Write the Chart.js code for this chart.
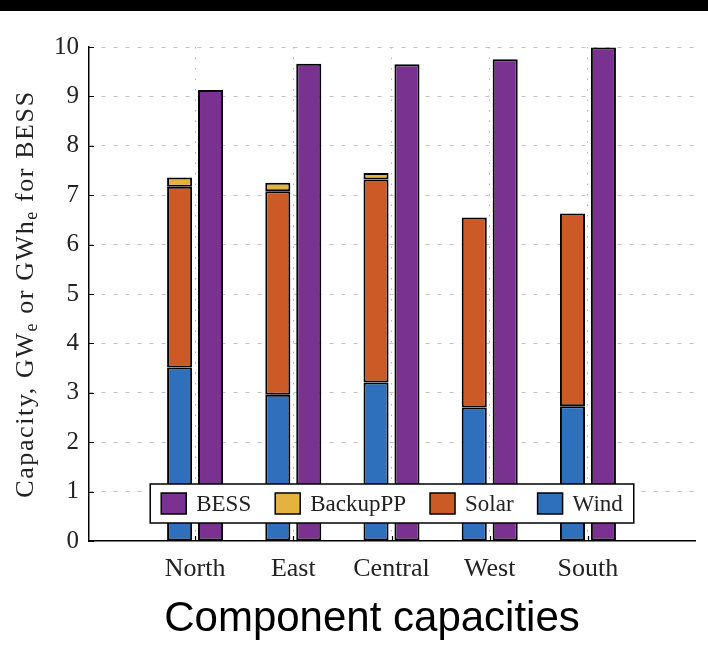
<!DOCTYPE html>
<html>
<head>
<meta charset="utf-8">
<script src="https://cdn.jsdelivr.net/npm/chart.js@4.4.1/dist/chart.umd.min.js"></script>
<style>
  html, body { margin: 0; padding: 0; background: #fff; }
  #wrap { width: 708px; height: 648px; }
</style>
</head>
<body>
<div id="wrap"><canvas id="c" width="708" height="648"></canvas></div>
<script>
// Installed capacity per region (GW_e; BESS in GWh_e)
const regions = ['North', 'East', 'Central', 'West', 'South'];
const wind    = [3.51, 2.96, 3.21, 2.70, 2.73];
const solar   = [3.66, 4.12, 4.11, 3.85, 3.90];
const backup  = [0.19, 0.17, 0.13, 0.00, 0.00];
const bess    = [9.13, 9.66, 9.65, 9.75, 9.99];
const yTicks  = [0, 1, 2, 3, 4, 5, 6, 7, 8, 9, 10];
const legendOrder = ['BESS', 'BackupPP', 'Solar', 'Wind'];
// y-axis title pieces: [text, isSubscript]
const yTitle = [['Capacity, GW', false], ['e', true], [' or GWh', false], ['e', true], [' for BESS', false]];

const serif = "'Liberation Serif', 'DejaVu Serif', serif";
const colors = { Wind: '#2F70BC', Solar: '#CC5A27', BackupPP: '#E6B23E', BESS: '#7A3290' };

const points = arr => arr.map((v, i) => ({ x: i, y: v }));
const barStyle = name => ({
  backgroundColor: colors[name],
  borderColor: '#000',
  borderWidth: 2,
  borderSkipped: false,
  categoryPercentage: 0.63,
  barPercentage: 0.81
});

const datasets = [
  { label: 'Wind',     data: points(wind),   stack: 'mix',  ...barStyle('Wind') },
  { label: 'Solar',    data: points(solar),  stack: 'mix',  ...barStyle('Solar') },
  { label: 'BackupPP', data: points(backup), stack: 'mix',  ...barStyle('BackupPP') },
  { label: 'BESS',     data: points(bess),   stack: 'bess', ...barStyle('BESS') }
];

// Background band, inward axis ticks, y title, boxed legend and caption
const decorations = {
  id: 'decorations',
  beforeDraw(chart) {
    const { ctx, width, height } = chart;
    ctx.save();
    ctx.fillStyle = '#fff';
    ctx.fillRect(0, 0, width, height);
    ctx.fillStyle = '#000';
    ctx.fillRect(0, 0, width, 11);
    ctx.restore();
  },
  afterDatasetsDraw(chart) {
    const { ctx, chartArea: a, scales: { x, y } } = chart;
    ctx.save();
    ctx.strokeStyle = '#000';
    ctx.lineWidth = 1.2;
    ctx.beginPath();
    yTicks.forEach(v => {
      const py = Math.round(y.getPixelForValue(v)) + 0.5;
      ctx.moveTo(a.left, py); ctx.lineTo(a.left + 5, py);
    });
    regions.forEach((_, i) => {
      const px = Math.round(x.getPixelForValue(i)) + 0.5;
      ctx.moveTo(px, a.bottom); ctx.lineTo(px, a.bottom - 5);
    });
    ctx.stroke();

    // rotated y-axis title with subscripts
    ctx.save();
    ctx.translate(26, (a.top + a.bottom) / 2);
    ctx.rotate(-Math.PI / 2);
    ctx.fillStyle = '#222';
    ctx.textBaseline = 'middle';
    ctx.textAlign = 'left';
    if ('letterSpacing' in ctx) ctx.letterSpacing = '1.6px';
    const mainFont = '26px ' + serif, subFont = '18px ' + serif;
    let tw = 0;
    yTitle.forEach(([t, sub]) => { ctx.font = sub ? subFont : mainFont; tw += ctx.measureText(t).width; });
    let tx = -tw / 2;
    yTitle.forEach(([t, sub]) => {
      ctx.font = sub ? subFont : mainFont;
      ctx.fillText(t, tx, sub ? 6 : 0);
      tx += ctx.measureText(t).width;
    });
    ctx.restore();

    // legend box
    ctx.font = '23px ' + serif;
    ctx.textBaseline = 'middle';
    const sw = 25, sh = 21, gapText = 10, gapItem = 24, padX = 11;
    const widths = legendOrder.map(n => ctx.measureText(n).width);
    let total = padX * 2;
    widths.forEach((w, i) => { total += sw + gapText + w + (i < widths.length - 1 ? gapItem : 0); });
    const cx = (a.left + a.right) / 2;
    const boxL = cx - total / 2, boxB = a.bottom - 18, boxH = 39, boxT = boxB - boxH;
    ctx.fillStyle = '#fff';
    ctx.fillRect(boxL, boxT, total, boxH);
    ctx.lineWidth = 1.5;
    ctx.strokeRect(boxL, boxT, total, boxH);
    let px = boxL + padX;
    const my = boxT + boxH / 2;
    legendOrder.forEach((name, i) => {
      ctx.fillStyle = colors[name];
      ctx.fillRect(px, my - sh / 2, sw, sh);
      ctx.strokeRect(px, my - sh / 2, sw, sh);
      ctx.fillStyle = '#222';
      ctx.textAlign = 'left';
      ctx.fillText(name, px + sw + gapText, my + 1);
      px += sw + gapText + widths[i] + gapItem;
    });

    // caption
    ctx.font = "42px 'Liberation Sans', Arial, sans-serif";
    ctx.fillStyle = '#000';
    ctx.textAlign = 'center';
    ctx.textBaseline = 'alphabetic';
    ctx.fillText('Component capacities', 372, 631);
    ctx.restore();
  }
};

new Chart(document.getElementById('c'), {
  type: 'bar',
  data: { datasets },
  plugins: [decorations],
  options: {
    responsive: false,
    animation: false,
    devicePixelRatio: 1,
    layout: { padding: { top: 47, right: 13, left: 0, bottom: 0 } },
    plugins: { legend: { display: false }, tooltip: { enabled: false }, title: { display: false } },
    scales: {
      x: {
        type: 'linear',
        stacked: true,
        offset: false,
        min: -1.08,
        max: 5.09,
        afterFit: s => { s.height = 107; },
        afterBuildTicks: s => { s.ticks = regions.map((_, i) => ({ value: i })); },
        ticks: {
          callback: v => regions[v],
          font: { family: serif, size: 26 },
          color: '#222',
          padding: 13,
          maxRotation: 0,
          autoSkip: false
        },
        grid: { color: '#b5b5b5', lineWidth: 1, drawTicks: false, offset: false },
        border: { display: true, color: '#000', width: 1.5, dash: [1.5, 9] }
      },
      y: {
        stacked: true,
        min: 0,
        max: 10,
        afterFit: s => { s.width = 89; },
        afterBuildTicks: s => { s.ticks = yTicks.map(v => ({ value: v })); },
        ticks: {
          font: { family: serif, size: 25 },
          color: '#222',
          padding: 10
        },
        grid: {
          color: c => (c.tick && c.tick.value === 0 ? 'rgba(0,0,0,0)' : '#c4c4c4'),
          lineWidth: 1,
          drawTicks: false
        },
        border: { display: true, color: '#000', width: 1.5, dash: [4, 8] },
        title: { display: false }
      }
    }
  }
});
</script>
</body>
</html>
